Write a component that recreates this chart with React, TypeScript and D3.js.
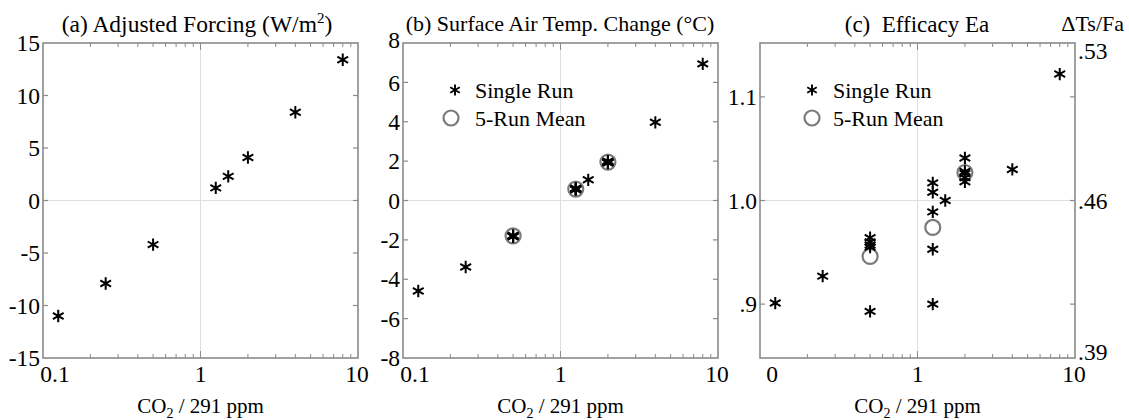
import React from "react";
import * as d3 from "d3";

// ---- data ----
const ratios = [0.125, 0.25, 0.5, 1.25, 1.5, 2, 4, 8];
const forcing = [-11.0, -7.9, -4.2, 1.2, 2.3, 4.1, 8.4, 13.4];

const tempRunX = [0.125, 0.25, 0.5, 0.5, 0.5, 0.5, 0.5, 1.25, 1.25, 1.25, 1.25, 1.25, 1.5, 2, 2, 2, 2, 2, 4, 8];
const tempRunY = [-4.6, -3.38, -1.78, -1.8, -1.82, -1.84, -1.8, 0.55, 0.57, 0.58, 0.6, 0.62, 1.05, 1.9, 1.93, 1.95, 1.97, 2.0, 3.97, 6.94];
const tempMeanX = [0.5, 1.25, 2];
const tempMeanY = [-1.8, 0.58, 1.95];

const effRunX = [0.125, 0.25, 0.5, 0.5, 0.5, 0.5, 0.5, 1.25, 1.25, 1.25, 1.25, 1.25, 1.5, 2, 2, 2, 2, 2, 4, 8];
const effRunY = [0.901, 0.927, 0.964, 0.960, 0.957, 0.955, 0.893, 1.017, 1.008, 0.989, 0.953, 0.900, 1.0, 1.041, 1.028, 1.026, 1.022, 1.018, 1.030, 1.122];
const effMeanX = [0.5, 1.25, 2];
const effMeanY = [0.946, 0.974, 1.027];

const xTickVals = [0.1, 1, 10];
const xTickLabelsAB = ["0.1", "1", "10"];
const xTickLabelsC = ["0", "1", "10"];

const aTicks = [-15, -10, -5, 0, 5, 10, 15];
const bTicks = [-8, -6, -4, -2, 0, 2, 4, 6, 8];
const cTicks = [0.9, 1.0, 1.1];
const cTickLabels = [".9", "1.0", "1.1"];
const cRightLabels = [".53", ".46", ".39"];

const legendLabels = ["Single Run", "5-Run Mean"];

// ---- layout ----
const TOP = 43;
const BOTTOM = 358;
const PW = 315;
const FONT = "'Liberation Serif', 'Times New Roman', Times, serif";
const FRAME = "#8a8a8a";
const GRID = "#dedede";
const TICKFS = 23.5;

function starPath(cx: number, cy: number, r = 6.2) {
  const t = r / 2;
  const u = t * Math.sqrt(3);
  return `M${cx},${cy - r}L${cx},${cy + r}M${cx - u},${cy - t}L${cx + u},${cy + t}M${cx - u},${cy + t}L${cx + u},${cy - t}`;
}

const minorVals: number[] = [];
[0.1, 1].forEach((d) => {
  for (let k = 2; k <= 9; k++) minorVals.push(d * k);
});

type PanelProps = {
  x0: number;
  domain: [number, number];
  ticks: number[];
  tickLabels: string[];
  topLabelShift?: number;
  xLabels: string[];
  gridY: number;
  runX: number[];
  runY: number[];
  meanX?: number[];
  meanY?: number[];
  legend?: { starX: number; circX: number; textX: number };
  children?: React.ReactNode;
};

function Panel(p: PanelProps) {
  const x = d3.scaleLog().domain([0.1, 10]).range([p.x0, p.x0 + PW]);
  const y = d3.scaleLinear().domain(p.domain).range([BOTTOM, TOP]);
  const inner = p.ticks.filter((t) => t > p.domain[0] && t < p.domain[1]);
  const lastIdx = p.ticks.length - 1;
  return (
    <g>
      {/* grid */}
      <line x1={x(1)} x2={x(1)} y1={TOP} y2={BOTTOM} stroke={GRID} strokeWidth={1} />
      <line x1={p.x0} x2={p.x0 + PW} y1={y(p.gridY)} y2={y(p.gridY)} stroke={GRID} strokeWidth={1} />
      {/* minor x ticks */}
      {minorVals.map((v, i) => (
        <g key={"m" + i}>
          <line x1={x(v)} x2={x(v)} y1={BOTTOM} y2={BOTTOM - 4} stroke={FRAME} strokeWidth={1} />
          <line x1={x(v)} x2={x(v)} y1={TOP} y2={TOP + 4} stroke={FRAME} strokeWidth={1} />
        </g>
      ))}
      <line x1={x(1)} x2={x(1)} y1={BOTTOM} y2={BOTTOM - 7} stroke={FRAME} strokeWidth={1} />
      <line x1={x(1)} x2={x(1)} y1={TOP} y2={TOP + 7} stroke={FRAME} strokeWidth={1} />
      {/* y ticks */}
      {inner.map((t, i) => (
        <g key={"t" + i}>
          <line x1={p.x0} x2={p.x0 + 5} y1={y(t)} y2={y(t)} stroke={FRAME} strokeWidth={1.2} />
          <line x1={p.x0 + PW} x2={p.x0 + PW - 5} y1={y(t)} y2={y(t)} stroke={FRAME} strokeWidth={1.2} />
        </g>
      ))}
      {/* frame */}
      <rect x={p.x0} y={TOP} width={PW} height={BOTTOM - TOP} fill="none" stroke={FRAME} strokeWidth={1.6} />
      {/* y labels */}
      {p.ticks.map((t, i) => (
        <text
          key={"yl" + i}
          x={p.x0 - 3}
          y={y(t) - (i === lastIdx ? p.topLabelShift || 0 : 0)}
          dy="0.35em"
          textAnchor="end"
          fontSize={TICKFS}
          fontFamily={FONT}
        >
          {p.tickLabels[i]}
        </text>
      ))}
      {/* x labels */}
      {xTickVals.map((v, i) => (
        <text key={"xl" + i} x={i === 0 ? x(v) + 12 : i === 2 ? x(v) - 1 : x(v)} y={382} textAnchor="middle" fontSize={TICKFS} fontFamily={FONT}>
          {p.xLabels[i]}
        </text>
      ))}
      <text x={x(1)} y={413} textAnchor="middle" fontSize={21} fontFamily={FONT}>
        CO<tspan dy={5} fontSize={14}>2</tspan>
        <tspan dy={-5}> / 291 ppm</tspan>
      </text>
      {/* means */}
      {p.meanX &&
        p.meanX.map((v, i) => (
          <circle key={"c" + i} cx={x(v)} cy={y(p.meanY![i])} r={7.5} fill="none" stroke="#7a7a7a" strokeWidth={2.2} />
        ))}
      {/* runs */}
      {p.runX.map((v, i) => (
        <path key={"s" + i} d={starPath(x(v), y(p.runY[i]))} stroke="#000" strokeWidth={2} fill="none" />
      ))}
      {p.legend && (
        <g fontFamily={FONT} fontSize={22}>
          <path d={starPath(p.legend.starX, 90, 5.5)} stroke="#000" strokeWidth={1.9} fill="none" />
          <text x={p.legend.textX} y={98}>{legendLabels[0]}</text>
          <circle cx={p.legend.circX} cy={118} r={7.5} fill="none" stroke="#7a7a7a" strokeWidth={2.2} />
          <text x={p.legend.textX} y={126}>{legendLabels[1]}</text>
        </g>
      )}
      {p.children}
    </g>
  );
}

export default function App() {
  const yc = d3.scaleLinear().domain([0.848, 1.152]).range([BOTTOM, TOP]);
  const cx0 = 760;
  return (
    <svg width={1129} height={420} style={{ display: "block", position: "absolute", left: 0, top: 0 }}>
      <rect width={1129} height={420} fill="#fff" />
      {/* Panel a */}
      <text x={197} y={32} textAnchor="middle" fontSize={23.5} fontFamily={FONT}>
        (a) Adjusted Forcing (W/m<tspan dy={-9} fontSize={15}>2</tspan>
        <tspan dy={9}>)</tspan>
      </text>
      <Panel
        x0={43}
        domain={[-15, 15]}
        ticks={aTicks}
        tickLabels={aTicks.map(String)}
        xLabels={xTickLabelsAB}
        gridY={0}
        runX={ratios}
        runY={forcing}
      />
      {/* Panel b */}
      <text x={560} y={31} textAnchor="middle" fontSize={22} fontFamily={FONT}>
        (b) Surface Air Temp. Change (°C)
      </text>
      <Panel
        x0={403}
        domain={[-8, 8]}
        ticks={bTicks}
        tickLabels={bTicks.map(String)}
        topLabelShift={3}
        xLabels={xTickLabelsAB}
        gridY={0}
        runX={tempRunX}
        runY={tempRunY}
        meanX={tempMeanX}
        meanY={tempMeanY}
        legend={{ starX: 455, circX: 451, textX: 475 }}
      />
      {/* Panel c */}
      <text x={917} y={32} textAnchor="middle" fontSize={23} fontFamily={FONT} style={{ whiteSpace: "pre" }}>
        (c)  Efficacy Ea
      </text>
      <text x={1124} y={31} textAnchor="end" fontSize={22} fontFamily={FONT}>
        ΔTs/Fa
      </text>
      <Panel
        x0={cx0}
        domain={[0.848, 1.152]}
        ticks={cTicks}
        tickLabels={cTickLabels}
        xLabels={xTickLabelsC}
        gridY={1.0}
        runX={effRunX}
        runY={effRunY}
        meanX={effMeanX}
        meanY={effMeanY}
        legend={{ starX: 812, circX: 812, textX: 833 }}
      >
        {cRightLabels.map((l, i) => (
          <text
            key={"r" + i}
            x={cx0 + PW + 3}
            y={i === 0 ? yc(1.152) + 8 : i === 1 ? yc(1.0) : yc(0.848) - 6}
            dy="0.35em"
            fontSize={TICKFS}
            fontFamily={FONT}
          >
            {l}
          </text>
        ))}
      </Panel>
    </svg>
  );
}
